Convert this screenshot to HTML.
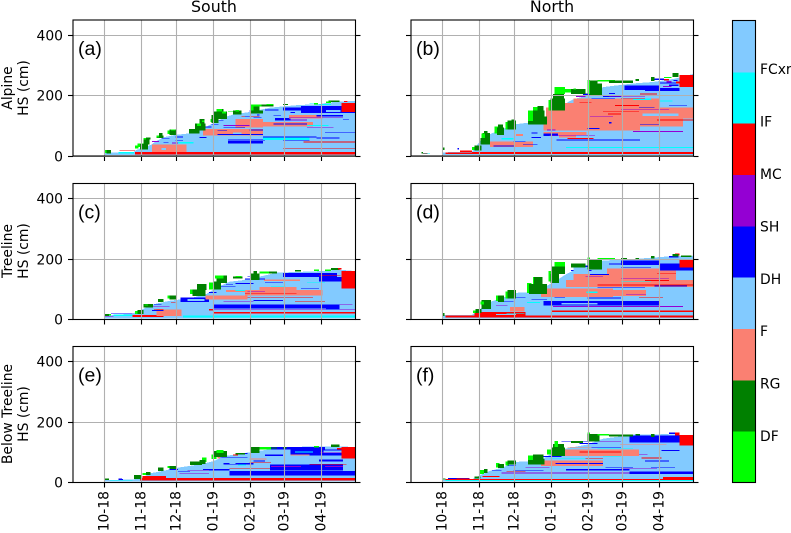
<!DOCTYPE html>
<html>
<head>
<meta charset="utf-8">
<title>Snow grain type by date</title>
<style>
html,body{margin:0;padding:0;background:#fff;width:791px;height:533px;overflow:hidden}
svg{display:block}
text{font-family:"DejaVu Sans","Liberation Sans",sans-serif;fill:#000}
</style>
</head>
<body>
<svg id="figure" width="791" height="533" viewBox="0 0 791 533" xmlns="http://www.w3.org/2000/svg"></svg>
<script>
// Months (days since 1 Oct 2018) and labels
const monthLabels = ["10-18","11-18","12-18","01-19","02-19","03-19","04-19"];
const monthDays = [0,31,61,92,123,151,182];
const hsTicks = [0,200,400];
const colorbarColors = ["#00ff00","#008000","#fa8072","#82caff","#0000ff","#9400d3","#ff0000","#00ffff","#82caff"];
const colorbarLabels = ["DF","RG","F","DH","SH","MC","IF","FCxr"];
const gc = {D:"#00ff00",R:"#008000",F:"#fa8072",H:"#82caff",S:"#0000ff",M:"#9400d3",I:"#ff0000",C:"#00ffff"};

// Snow height envelopes [day, cm] (below the new-snow caps)
const hsA = [[0,10],[25,14],[27,20],[40,38],[42,45],[50,62],[60,70],[72,75],[80,85],[92,110],[102,130],[110,139],[123,146],[139,160],[161,168],[180,172],[195,180],[211,182]];
const hsB = [[0,12],[25,14],[32,50],[40,72],[51,90],[61,105],[72,110],[85,120],[96,150],[104,175],[110,188],[122,200],[135,228],[160,240],[177,245],[194,255],[211,272]];
const hsC = [[0,12],[24,20],[31,32],[41,50],[55,62],[72,70],[86,85],[94,105],[105,125],[116,130],[128,140],[145,155],[181,160],[197,165],[211,160]];
const hsD = [[0,14],[25,15],[32,35],[40,58],[51,72],[61,88],[72,90],[85,105],[96,130],[104,150],[113,168],[122,175],[135,195],[160,200],[177,205],[194,210],[211,211]];
const hsE = [[0,8],[24,10],[31,14],[38,30],[49,38],[60,48],[72,55],[83,62],[91,70],[102,88],[122,100],[139,110],[161,118],[195,120],[211,117]];
const hsF = [[0,8],[25,10],[32,25],[40,38],[51,50],[61,68],[72,70],[85,80],[96,105],[107,115],[121,125],[135,145],[160,158],[188,160],[211,155]];

// Layers [grain code, start day, end day, bottom cm, top cm]
const layersA = [
["C",12,25,8,14],["I",13,26,17,19],["I",26,211,5,13],["F",40,69,13,38],["H",48,52,20,26],["S",60,66,61,64],["S",60,66,50,52],["C",62,75,42,47],
["M",57,62,42,44],["S",80,86,60,63],["F",83,133,68,90],["S",95,133,70,72],["H",108,115,72,78],["S",104,133,42,50],["S",104,135,52,55],["C",133,172,53,62],["S",133,178,62,65],
["S",150,172,50,52],["I",150,211,24,26],["I",167,211,45,48],["S",178,197,58,62],["S",185,211,78,80],["F",110,133,95,122],["F",125,175,97,112],["S",122,133,85,87],
["S",142,170,105,108],["C",170,188,100,103],["M",170,192,92,95],["M",145,170,118,120],["S",143,156,118,125],["S",125,132,125,128],["S",165,211,142,165],["S",150,190,150,160],
["F",155,183,124,135],["M",155,200,125,127],["S",178,200,130,136],["S",95,103,82,84],["S",100,118,92,94],["I",115,130,130,133],["M",100,122,100,102],["S",85,90,95,98],
["S",135,146,150,154],["S",122,130,148,150],["S",72,78,80,83],["M",40,46,47,49],["S",48,55,56,58],["S",50,54,44,46],["S",90,96,102,104],["S",96,100,115,118],["S",118,122,130,132],["S",128,130,134,138],["S",142,148,132,134],["S",156,160,142,146],["H",186,198,146,152],["S",200,205,120,122],["I",199,211,146,176],["C",180,190,168,172],
["D",1,2,10,20],["R",2,6,8,20],
["D",26,29,24,34],["D",28,33,30,42],["R",30,37,22,40],["R",33,38,38,60],["R",35,39,55,62],["D",33,35,55,60],
["R",44,50,60,68],["R",46,49,66,76],["D",44,46,62,68],
["D",53,56,72,84],["R",55,61,70,88],["D",56,60,85,88],
["R",71,80,75,90],["R",76,85,85,108],["R",80,84,105,122],["D",78,81,100,108],["D",82,84,112,118],
["D",89,91,112,122],["R",90,96,110,135],["R",92,103,122,148],["R",94,100,140,155],["D",94,99,148,156],["D",99,102,140,148],
["R",108,115,138,150],["D",110,113,148,153],["D",104,108,145,148],
["R",123,130,140,165],["D",123,125,150,170],["D",125,135,164,170],["R",130,133,140,150],["R",132,142,163,170],["D",136,142,168,172],
["R",150,154,168,172],["D",176,179,170,176],["R",188,197,178,184],["D",186,190,176,180],["I",201,204,178,182],["C",172,176,172,174]
];
const layersB = [
["R",-17,-16,8,14],["C",-16,-10,7,9],["I",-16,-12,8,10],["I",3,25,6,12],["I",25,211,6,14],["I",15,25,14,18],["S",13,14,22,26],["C",104,211,26,30],["F",40,76,30,48],["F",62,68,66,72],
["F",85,166,84,124],["F",87,211,124,160],["F",102,182,160,175],["F",110,182,175,190],["F",85,121,70,80],["F",98,112,62,70],["S",75,83,60,63],["S",85,97,66,75],["M",90,128,68,70],
["I",105,127,56,59],["S",43,61,32,34],["C",50,60,55,60],["S",96,167,52,54],["H",166,211,30,98],["F",166,202,98,124],["H",168,198,132,140],["I",139,150,138,140],["M",124,143,129,131],["M",160,202,80,82],
["S",166,182,104,106],["I",180,211,118,120],["C",182,193,180,184],["I",166,180,203,206],["S",153,182,218,234],["S",170,211,215,225],["S",122,132,90,92],["S",140,142,108,112],
["S",118,128,200,206],["S",135,150,195,200],["M",140,170,197,199],["C",160,175,185,190],["I",150,170,188,191],["S",75,80,75,78],["M",88,95,85,87],
["S",60,70,46,48],["S",68,80,38,40],["H",60,85,50,58],["S",125,145,188,190],["I",115,125,175,177],["S",128,134,205,210],["M",112,120,195,198],["S",140,145,205,208],["I",145,165,166,168],["S",165,178,160,162],["M",150,190,152,154],["I",135,165,145,147],["S",190,205,165,167],
["S",182,196,240,244],["I",186,190,250,254],["S",190,198,232,236],["M",185,192,228,232],["I",196,199,240,246],["S",178,186,252,256],["M",188,192,244,248],["S",194,197,248,252],["H",199,211,205,229],["I",199,211,229,268],
["R",0,2,20,28],
["D",25,28,20,30],["R",27,33,18,35],
["R",32,40,38,60],["R",34,40,60,76],["D",33,36,60,75],["R",35,38,75,82],
["D",44,47,75,98],["R",46,52,70,95],["R",47,51,95,105],
["D",53,56,88,112],["R",55,62,88,118],["R",58,61,115,120],
["R",72,88,105,130],["R",74,86,128,150],["D",72,76,115,150],["D",76,81,150,162],["R",80,85,150,165],
["D",89,92,150,185],["R",91,103,150,190],["R",93,102,190,205],["D",94,103,205,228],["D",102,108,210,222],
["R",108,120,205,222],["D",110,112,220,224],
["D",122,124,205,252],["R",124,134,200,240],["R",124,130,240,250],["D",130,145,246,252],["R",140,160,242,250],["R",162,165,248,254],["R",175,178,248,262],["R",193,198,262,275],["D",186,192,258,262]
];
const layersC = [
["M",0,8,10,12],["S",6,24,18,20],["C",8,24,12,16],["I",24,50,8,15],["C",66,211,6,14],["I",92,211,20,25],["S",92,197,36,50],["M",89,211,33,35],["F",44,65,12,33],["M",38,55,43,45],
["S",64,88,58,72],["H",70,84,62,68],["F",85,120,66,80],["F",118,183,80,97],["I",118,161,84,86],["I",120,175,73,75],["F",130,161,97,108],["F",102,122,91,97],["F",134,164,128,132],
["S",150,195,140,154],["S",180,199,125,140],["I",180,198,144,146],["S",186,197,33,50],["M",197,208,50,52],["C",110,118,95,97],["S",95,110,108,110],["S",110,125,118,120],
["S",118,135,132,135],["M",120,135,92,94],["C",140,152,108,110],["S",165,180,102,104],["I",88,92,30,34],["S",40,50,28,31],["I",42,50,33,35],["S",120,130,140,142],
["S",88,94,88,91],["S",125,150,62,64],["M",100,125,58,60],["I",160,185,60,62],["S",102,108,115,118],["S",135,150,120,122],["C",170,185,120,122],["S",42,48,50,52],["I",56,60,56,58],
["I",199,211,102,160],
["R",1,4,12,18],["D",4,6,14,18],["D",26,29,18,28],["R",28,33,18,32],["R",33,41,40,52],["D",34,37,46,50],["R",45,50,58,68],["D",53,60,70,80],["R",55,61,66,80],
["D",72,76,85,100],["R",74,85,78,100],["R",78,86,98,118],["D",88,92,100,122],["R",92,98,100,125],["R",94,103,120,145],["D",93,100,136,146],["R",108,116,135,143],["D",110,115,140,144],
["R",123,130,130,152],["R",125,128,150,160],["D",130,140,152,158],["R",138,145,152,158],["R",160,165,158,164],["D",176,180,160,166],["R",190,197,164,171],["D",185,190,160,165],["I",196,199,165,170]
];
const layersD = [
["I",3,30,6,13],["I",30,211,6,13],["I",27,70,13,24],["H",45,62,15,19],["I",92,211,25,30],["C",54,69,18,20],["F",57,69,26,42],["S",85,182,47,62],["H",100,130,50,54],["M",93,202,42,45],
["C",71,82,55,58],["S",94,103,72,76],["S",122,150,70,73],["F",83,143,74,102],["F",143,171,78,97],["F",104,211,108,130],["F",110,196,130,150],["F",138,196,150,168],
["M",154,171,82,84],["S",150,182,180,195],["S",182,211,162,185],["C",121,130,88,92],["I",130,211,113,115],["S",130,170,104,106],["M",150,190,135,137],["I",170,190,128,130],
["S",150,175,170,172],["S",108,125,160,163],["M",120,135,142,144],["S",124,140,148,150],["C",150,175,126,128],["S",75,88,64,67],["I",165,185,72,74],["S",178,205,110,112],
["S",132,150,197,199],["H",110,123,155,175],["S",120,128,174,178],["S",62,70,72,74],["M",45,55,45,47],["S",50,60,60,62],["H",150,172,75,78],["S",140,160,182,186],["I",180,196,150,152],["I",199,211,172,201],["S",190,198,205,210],["I",195,199,212,218],
["R",0,2,12,22],["D",26,29,22,30],["R",28,33,22,35],["R",33,41,35,64],["D",32,35,50,60],["D",45,48,62,80],["R",47,52,58,80],["D",53,56,70,92],["R",55,62,70,97],
["D",71,75,88,120],["D",76,83,118,141],["R",73,88,85,118],["R",77,84,115,141],["D",89,93,125,160],["R",91,98,120,150],["R",92,103,150,175],["D",94,103,175,190],["R",108,120,172,185],
["D",122,124,180,205],["R",122,134,165,198],["D",130,145,198,203],["R",150,155,198,203],["R",162,165,198,203],["R",175,178,202,210],["R",193,198,208,216],["R",200,209,207,212]
];
const layersE = [
["C",5,24,7,9],["S",12,16,9,12],["I",30,211,6,15],["I",32,52,10,22],["S",105,211,23,38],["S",83,105,40,45],["M",63,88,28,30],["S",139,200,40,60],["S",156,200,90,110],
["S",133,185,110,118],["S",95,120,82,85],["I",105,139,46,48],["S",100,125,60,64],["M",140,165,52,55],["F",122,136,76,80],["I",122,140,66,68],["I",172,203,60,62],["C",112,119,56,60],
["F",156,172,90,93],["M",181,203,98,100],["S",180,200,70,76],["M",185,200,52,54],["H",184,199,100,106],["S",135,150,88,92],["C",160,175,100,102],["I",195,205,110,114],
["S",112,120,95,98],["I",108,112,90,92],["F",95,97,80,84],["H",105,110,62,65],["S",55,62,42,44],["S",62,72,36,38],["M",70,88,40,42],["S",125,135,70,72],["I",199,211,80,117],
["R",1,4,8,14],["S",12,15,12,14],["R",25,31,12,24],["D",32,35,24,32],["R",35,39,24,34],["R",45,50,38,50],["D",53,56,48,55],["R",55,61,45,54],["R",72,82,58,70],["D",82,86,68,82],["R",80,85,62,74],
["D",90,94,78,92],["R",92,103,85,105],["D",94,100,98,108],["R",110,118,92,98],["R",123,130,98,118],["D",130,140,110,118],["R",140,145,112,116],["R",150,153,112,118],["R",190,197,118,125],["D",176,180,116,120]
];
const layersF = [
["C",3,211,5,8],["I",3,211,8,11],["S",5,23,12,15],["I",12,23,10,14],["I",185,211,12,18],["M",50,211,30,33],["I",34,48,18,22],["I",54,70,34,36],["S",104,157,40,45],["S",157,211,28,36],
["S",60,85,40,42],["M",70,90,48,50],["F",83,135,55,72],["F",100,165,88,110],["F",149,188,125,128],["S",157,199,133,155],["I",167,184,79,82],["M",165,172,92,94],["I",115,150,100,102],
["C",130,160,112,114],["S",125,150,115,118],["C",90,120,78,80],["S",95,135,62,64],["S",100,125,135,138],["F",105,125,115,118],["I",199,211,122,157],["S",184,199,105,108],
["S",137,160,50,52],["M",150,180,45,47],["S",175,195,50,52],["I",120,135,78,80],["S",85,100,85,87],["S",115,130,128,130],["M",130,150,135,137],["S",190,196,160,165],["I",195,199,155,165],
["S",42,50,40,42],["S",55,62,55,57],["C",135,150,84,86],["S",170,190,70,72],
["R",1,3,10,14],["R",27,32,14,20],["D",31,35,28,42],["R",35,38,32,44],["D",45,48,50,65],["R",47,52,48,62],["D",53,56,56,70],["R",55,62,60,72],["R",72,86,60,78],["D",72,76,75,90],["R",76,85,78,92],
["D",88,92,92,110],["R",92,103,88,115],["R",93,102,115,128],["D",94,97,118,138],["R",108,118,130,138],["D",122,124,140,165],["R",122,132,135,160],["D",130,140,156,160],["R",140,160,152,158],["R",162,166,155,160],["R",175,178,150,160]
];

const panels = [
 {name:"a",letter:"(a)",left:73,top:20,bottom:156,hs:hsA,layers:layersA},
 {name:"b",letter:"(b)",left:411,top:20,bottom:156,hs:hsB,layers:layersB},
 {name:"c",letter:"(c)",left:73,top:183.5,bottom:319.5,hs:hsC,layers:layersC},
 {name:"d",letter:"(d)",left:411,top:183.5,bottom:319.5,hs:hsD,layers:layersD},
 {name:"e",letter:"(e)",left:73,top:346.5,bottom:482.5,hs:hsE,layers:layersE},
 {name:"f",letter:"(f)",left:411,top:346.5,bottom:482.5,hs:hsF,layers:layersF}
];
const NS = "http://www.w3.org/2000/svg";
const fig = document.getElementById("figure");
const PANEL_W = 282.5;
const DAY_MIN = -26, DAY_MAX = 210.6, CM_MAX = 450;
function make(tag, parent, attrs){
  const el = document.createElementNS(NS, tag);
  for (const k in attrs) el.setAttribute(k, attrs[k]);
  parent.appendChild(el);
  return el;
}
function snap(v){ return Math.round(v - 0.5) + 0.5; }

panels.forEach(function(p, idx){
  const xS = function(d){ return p.left + (d - DAY_MIN) / (DAY_MAX - DAY_MIN) * PANEL_W; };
  const yS = function(c){ return p.bottom - c / CM_MAX * (p.bottom - p.top); };
  const g = make("g", fig, {});
  
  

  const clip = make("clipPath", g, {id:"clip-" + p.name});
  make("rect", clip, {x:p.left, y:p.top, width:PANEL_W, height:p.bottom - p.top});
  const marks = make("g", g, {"clip-path":"url(#clip-" + p.name + ")", "shape-rendering":"crispEdges"});
  
  

  // snowpack body
  let pts = xS(p.hs[0][0]) + "," + yS(4);
  p.hs.forEach(function(h){ pts += " " + xS(h[0]) + "," + yS(h[1]); });
  pts += " " + xS(p.hs[p.hs.length - 1][0]) + "," + yS(4);
  const body = make("polygon", marks, {points:pts, fill:gc.H});
  
  

  // grain layers
  p.layers.forEach(function(l){
    const r = make("rect", marks, {x:xS(l[1]), y:yS(l[4]), width:xS(l[2]) - xS(l[1]), height:yS(l[3]) - yS(l[4]), fill:gc[l[0]]});
    
    
  });

  // grid
  monthDays.forEach(function(d){
    const gx = snap(xS(d));
    const line = make("line", g, {x1:gx, x2:gx, y1:p.top, y2:p.bottom, stroke:"#b0b0b0", "stroke-width":1.1});
    
    
    const tick = make("line", g, {x1:gx, x2:gx, y1:p.bottom, y2:p.bottom + 5, stroke:"#000", "stroke-width":1.1});
    
    
  });
  hsTicks.forEach(function(c){
    const gy = snap(yS(c));
    const line = make("line", g, {x1:p.left, x2:p.left + PANEL_W, y1:gy, y2:gy, stroke:"#b0b0b0", "stroke-width":1.1});
    
    
    const t1 = make("line", g, {x1:p.left - 5, x2:p.left, y1:gy, y2:gy, stroke:"#000", "stroke-width":1.1});
    
    
    const t2 = make("line", g, {x1:p.left + PANEL_W, x2:p.left + PANEL_W + 5, y1:gy, y2:gy, stroke:"#000", "stroke-width":1.1});
    
    
    if (idx % 2 === 0){
      const lab = make("text", g, {x:p.left - 10, y:gy + 5, "text-anchor":"end", "font-size":"13.9px"});
      
      
      lab.textContent = c;
    }
  });
  if (idx >= 4){
    monthDays.forEach(function(d, i){
      const tx = snap(xS(d)) + 4;
      const lab = make("text", g, {transform:"translate(" + tx + ",491) rotate(-90)", "text-anchor":"end", "font-size":"13.9px"});
      
      
      lab.textContent = monthLabels[i];
    });
  }
  const frame = make("rect", g, {x:p.left, y:p.top, width:PANEL_W, height:p.bottom - p.top, fill:"none", stroke:"#000", "stroke-width":1.1});
  
  

  const letter = make("text", g, {x:p.left + 5, y:p.top + 35, "font-size":"19.5px", style:"font-family:'Liberation Sans',sans-serif"});
  
  
  letter.textContent = p.letter;
});

// Column titles
[["South",214],["North",552]].forEach(function(t){
  const el = make("text", fig, {x:t[1], y:12, "text-anchor":"middle", "font-size":"15.8px"});
  
  
  el.textContent = t[0];
});

// Row labels
[["Alpine",88],["Treeline",251],["Below Treeline",414]].forEach(function(t){
  const a = make("text", fig, {transform:"translate(12," + t[1] + ") rotate(-90)", "text-anchor":"middle", "font-size":"13.9px"});
  
  
  a.textContent = t[0];
  const b = make("text", fig, {transform:"translate(28," + t[1] + ") rotate(-90)", "text-anchor":"middle", "font-size":"13.9px"});
  
  
  b.textContent = "HS (cm)";
});

// Colorbar
const cbTop = 20.5, cbBottom = 482.5, cbLeft = 732.5, cbWidth = 23;
const cbStep = (cbBottom - cbTop) / colorbarColors.length;
const cbLabelStep = cbStep * 8 / 7.83;
const cb = make("g", fig, {"shape-rendering":"crispEdges"});


colorbarColors.forEach(function(c, i){
  const r = make("rect", cb, {x:cbLeft, y:cbBottom - (i + 1) * cbStep, width:cbWidth, height:cbStep + 0.5, fill:c});
  
  
});
const cbFrame = make("rect", fig, {x:cbLeft, y:cbTop, width:cbWidth, height:cbBottom - cbTop, fill:"none", stroke:"#000", "stroke-width":1.1});


colorbarLabels.forEach(function(t, i){
  const lab = make("text", fig, {x:760, y:441 - i * 52.4, "font-size":"13.9px"});
  
  
  lab.textContent = t;
});
</script>
</body>
</html>
